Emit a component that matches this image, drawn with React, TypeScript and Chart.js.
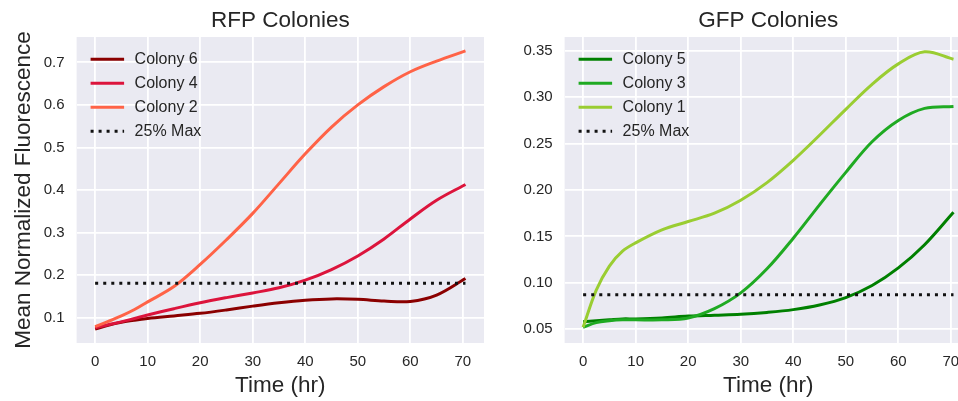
import React, { useEffect, useRef } from 'react';
import { Chart, registerables } from 'chart.js';

Chart.register(...registerables);

// ---------------- data ----------------
const hours = [0, 2.5, 5, 7.5, 10, 15, 20, 25, 30, 35, 40, 45, 50, 55, 60, 65, 70.5];

const colony6 = [0.073, 0.082, 0.089, 0.094, 0.098, 0.104, 0.11, 0.118, 0.127, 0.135, 0.141, 0.144, 0.143, 0.139, 0.138, 0.153, 0.192];
const colony4 = [0.076, 0.083, 0.09, 0.098, 0.106, 0.121, 0.135, 0.147, 0.158, 0.17, 0.188, 0.213, 0.245, 0.285, 0.332, 0.376, 0.413];
const colony2 = [0.079, 0.091, 0.104, 0.119, 0.137, 0.173, 0.225, 0.283, 0.345, 0.415, 0.485, 0.548, 0.6, 0.643, 0.678, 0.703, 0.727];

const colony5 = [0.058, 0.059, 0.06, 0.061, 0.061, 0.062, 0.064, 0.065, 0.066, 0.068, 0.071, 0.076, 0.084, 0.097, 0.116, 0.141, 0.176];
const colony3 = [0.052, 0.057, 0.059, 0.06, 0.06, 0.06, 0.062, 0.072, 0.089, 0.115, 0.148, 0.184, 0.219, 0.252, 0.275, 0.288, 0.29];
const colony1 = [0.052, 0.092, 0.118, 0.134, 0.143, 0.157, 0.166, 0.175, 0.189, 0.208, 0.232, 0.259, 0.287, 0.314, 0.336, 0.349, 0.341];

const thresholdHours = [0, 70.5];
const rfpThreshold = [0.181, 0.181];
const gfpThreshold = [0.087, 0.087];

const xTicksStep = 10;
const rfpYStep = 0.1;
const gfpYStep = 0.05;

// ---------------- styling ----------------
const FONT = "'Liberation Sans', Arial, Helvetica, sans-serif";
const TEXT = '#262626';
const PLOT_BG = '#EAEAF2';

const bgPlugin = {
  id: 'plotBg',
  beforeDraw(chart: any) {
    const { ctx, chartArea: a } = chart;
    ctx.save();
    ctx.fillStyle = PLOT_BG;
    ctx.fillRect(a.left, a.top, a.right - a.left, a.bottom - a.top);
    ctx.restore();
  },
};

const innerLegend = {
  id: 'innerLegend',
  afterDraw(chart: any) {
    const { ctx, chartArea: a } = chart;
    ctx.save();
    ctx.font = `16px ${FONT}`;
    ctx.textBaseline = 'middle';
    ctx.textAlign = 'left';
    chart.data.datasets.forEach((ds: any, i: number) => {
      const y = a.top + 22.3 + i * 24;
      ctx.beginPath();
      ctx.strokeStyle = ds.borderColor;
      ctx.lineWidth = ds.borderWidth;
      ctx.lineCap = 'butt';
      ctx.setLineDash(ds.borderDash || []);
      ctx.moveTo(a.left + 14, y);
      ctx.lineTo(a.left + 47.5, y);
      ctx.stroke();
      ctx.setLineDash([]);
      ctx.fillStyle = TEXT;
      ctx.fillText(ds.label, a.left + 58, y);
    });
    ctx.restore();
  },
};

function series(label: string, xs: number[], ys: number[], color: string, order: number, dash?: number[]) {
  return {
    label,
    data: xs.map((x, i) => ({ x, y: ys[i] })),
    borderColor: color,
    backgroundColor: color,
    borderWidth: 3,
    borderDash: dash || [],
    borderCapStyle: 'butt',
    pointRadius: 0,
    pointHoverRadius: 0,
    fill: false,
    tension: 0.35,
    order,
  };
}

function makeConfig(title: string, datasets: any[], yMin: number, yMax: number, yStep: number, decimals: number, yTitle: string) {
  return {
    type: 'line',
    data: { datasets },
    plugins: [bgPlugin, innerLegend],
    options: {
      animation: false,
      responsive: false,
      devicePixelRatio: 1,
      layout: { padding: { left: 0, right: 6, top: 0, bottom: 0 } },
      plugins: {
        legend: { display: false },
        tooltip: { enabled: false },
        title: {
          display: true,
          text: title,
          fullSize: false,
          color: TEXT,
          font: { family: FONT, size: 22.5, weight: 'normal', lineHeight: 1.2 },
          padding: { top: 7.2, bottom: 2.8 },
        },
      },
      scales: {
        x: {
          type: 'linear',
          min: -3.525,
          max: 74.025,
          afterFit: (s: any) => { s.height = 58; },
          border: { display: false },
          grid: { color: '#FFFFFF', lineWidth: 1.8, drawTicks: false },
          ticks: {
            stepSize: xTicksStep,
            includeBounds: false,
            color: TEXT,
            padding: 10,
            font: { family: FONT, size: 15 },
            callback: (v: any) => String(Math.round(v)),
          },
          title: {
            display: true,
            text: 'Time (hr)',
            color: TEXT,
            font: { family: FONT, size: 22.5, lineHeight: 1.2 },
            padding: { top: 0, bottom: 1.4 },
          },
        },
        y: {
          type: 'linear',
          min: yMin,
          max: yMax,
          afterFit: (s: any) => { s.width = 76.6; },
          border: { display: false },
          grid: { color: '#FFFFFF', lineWidth: 1.8, drawTicks: false },
          ticks: {
            stepSize: yStep,
            includeBounds: false,
            color: TEXT,
            padding: 12,
            font: { family: FONT, size: 15 },
            callback: (v: any) => Number(v).toFixed(decimals),
          },
          title: {
            display: yTitle !== '',
            text: yTitle,
            color: TEXT,
            font: { family: FONT, size: 22.5, lineHeight: 1.2 },
            padding: { top: 10.2, bottom: 0 },
          },
        },
      },
    },
  };
}

export default function App() {
  const leftRef = useRef<HTMLCanvasElement>(null);
  const rightRef = useRef<HTMLCanvasElement>(null);

  useEffect(() => {
    const rfp = [
      series('Colony 6', hours, colony6, '#8B0000', 3),
      series('Colony 4', hours, colony4, '#DC143C', 2),
      series('Colony 2', hours, colony2, '#FF6347', 1),
      series('25% Max', thresholdHours, rfpThreshold, '#111111', 0, [3, 5]),
    ];
    const gfp = [
      series('Colony 5', hours, colony5, '#008000', 3),
      series('Colony 3', hours, colony3, '#1FAA22', 2),
      series('Colony 1', hours, colony1, '#9ACD32', 1),
      series('25% Max', thresholdHours, gfpThreshold, '#111111', 0, [3, 5]),
    ];
    const c1 = new Chart(leftRef.current as HTMLCanvasElement, makeConfig('RFP Colonies', rfp, 0.0403, 0.7597, rfpYStep, 1, 'Mean Normalized Fluorescence') as any);
    const c2 = new Chart(rightRef.current as HTMLCanvasElement, makeConfig('GFP Colonies', gfp, 0.035, 0.365, gfpYStep, 2, '') as any);
    return () => {
      c1.destroy();
      c2.destroy();
    };
  }, []);

  return (
    <div style={{ position: 'fixed', left: 0, top: 0, width: 958, height: 401, overflow: 'hidden', background: '#FFFFFF' }}>
      <canvas ref={leftRef} width={490} height={401} style={{ position: 'absolute', left: 0, top: 0, width: 490, height: 401 }} />
      <canvas ref={rightRef} width={490} height={401} style={{ position: 'absolute', left: 488, top: 0, width: 490, height: 401 }} />
    </div>
  );
}
